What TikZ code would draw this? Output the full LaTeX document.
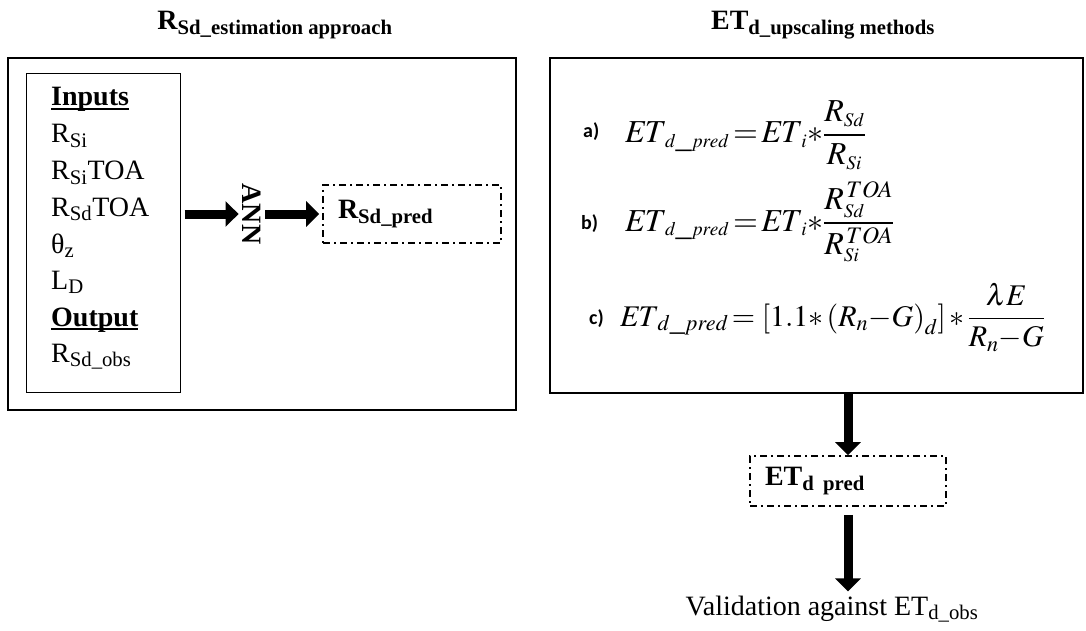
\documentclass[tikz,border=0pt]{standalone}
\usepackage{mathptmx}
\usepackage[no-math]{fontspec}
\setmainfont{Liberation Serif}
\newfontfamily\calib{Carlito}
\usetikzlibrary{arrows.meta, positioning}
\newcommand{\hdrline}[1]{\setbox0\hbox{#1}\rlap{\rule[-4pt]{\wd0}{1.8pt}}\box0}

\begin{document}
\begin{tikzpicture}[x=1pt, y=-1pt,
	frame/.style = {draw, line width=2.4pt, inner sep=0pt},
	list/.style = {draw, line width=1pt, inner sep=0pt},
	dashbox/.style = {draw, line width=1.6pt, dash pattern=on 7pt off 4pt on 2pt off 4pt, align=left, inner xsep=15pt, inner ysep=0pt},
	fat/.style = {line width=9pt, -{Triangle[length=13pt,width=25pt]}},
	txt/.style = {font=\fontsize{28}{32}\selectfont, anchor=base west, inner sep=0pt},
	ttl/.style = {font=\fontsize{28}{32}\selectfont\bfseries, anchor=base, inner sep=0pt},
	lab/.style = {font=\fontsize{20}{24}\selectfont\calib\bfseries, anchor=base west, inner sep=0pt},
	eq/.style = {font=\fontsize{32}{36}\selectfont, anchor=base west, inner sep=0pt}]
	\useasboundingbox (0,0) rectangle (1086,631);

	% left part
	\node[ttl] (tl) at (275,30) {R\textsubscript{Sd\_estimation approach}};
	\node[frame, minimum width=508pt, minimum height=352pt] (left) at (262,234) {};
	\node[list, minimum width=154pt, minimum height=318pt] (inbox) at (103,233) {};
	\node[txt] (in) at (51,106) {\textbf{\hdrline{Inputs}}};
	\node[txt] (rsi) at (51,143) {R\textsubscript{Si}};
	\node[txt] (rsitoa) at (51,180) {R\textsubscript{Si}TOA};
	\node[txt] (rsdtoa) at (51,216) {R\textsubscript{Sd}TOA};
	\node[txt] (tz) at (51,253) {θ\textsubscript{z}};
	\node[txt] (ld) at (51,289) {L\textsubscript{D}};
	\node[txt] (out) at (51,326) {\textbf{\hdrline{Output}}};
	\node[txt] (rsdobs) at (51,362) {R\textsubscript{Sd\_obs}};
	\coordinate (a1) at (inbox.east |- 0,214);
	\node[rotate=-90, inner sep=4pt, font=\fontsize{28}{32}\selectfont\bfseries] (ann) at (252,214) {ANN};
	\node[dashbox, text width=148pt, minimum height=58pt, font=\fontsize{28}{32}\selectfont\bfseries] (pred) at (412,214) {R\textsubscript{Sd\_pred}};
	\draw[fat] (a1) ++(4,0) -- (ann.south);
	\draw[fat, shorten >=3pt] (ann.north) -- (pred.west);

	% right part
	\node[ttl] (tr) at (823,30) {ET\textsubscript{d\_upscaling methods}};
	\node[frame, minimum width=533pt, minimum height=335pt] (right) at (816.5,225.5) {};
	\node[lab] (la) at (583,138) {a)};
	\node[eq] (eqa) at (625,143) {$\displaystyle \mathit{ET}_{\scriptscriptstyle d\_pred}\,{=}\,\mathit{ET}_{\scriptscriptstyle i}{\ast}\frac{R_{\scriptscriptstyle Sd}}{R_{\scriptscriptstyle Si}}$};
	\node[lab] (lb) at (581,229) {b)};
	\node[eq] (eqb) at (625,231) {$\displaystyle \mathit{ET}_{\scriptscriptstyle d\_pred}\,{=}\,\mathit{ET}_{\scriptscriptstyle i}{\ast}\frac{R_{\scriptscriptstyle Sd}^{\,TOA}}{R_{\scriptscriptstyle Si}^{\,TOA}}$};
	\node[lab] (lc) at (589,324) {c)};
	\node[eq, font=\fontsize{30}{34}\selectfont] (eqc) at (620,326) {$\displaystyle \mathit{ET}_{\scriptstyle d\_pred}\,{=}\,\left[1.1{\ast}\left(R_{\scriptstyle n}{-}G\right)_{\scriptstyle d}\right]{\ast}\,\frac{\lambda E}{R_{\scriptstyle n}{-}G}$};
	\node[dashbox, text width=166pt, minimum height=50pt, font=\fontsize{28}{32}\selectfont\bfseries] (etp) at (848,481) {ET\textsubscript{d pred}};
	\node[txt, anchor=base] (val) at (832,615) {Validation against ET\textsubscript{d\_obs}};
	\draw[fat] (right.south -| etp) -- (etp.north);
	\draw[fat, shorten <=8pt, shorten >=4pt] (etp.south) -- (etp.south |- val.north);
\end{tikzpicture}
\end{document}
